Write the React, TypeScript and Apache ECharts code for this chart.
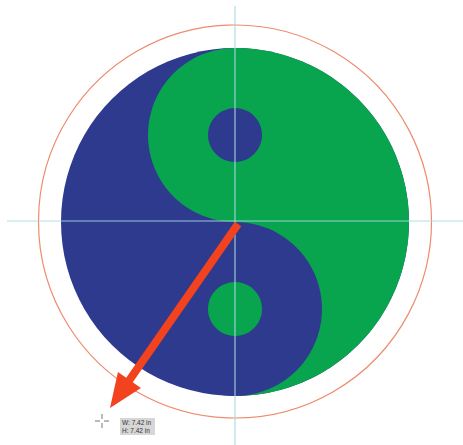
import React, { useEffect, useRef } from "react";
import * as echarts from "echarts";

// Geometry (in page pixels, y grows downward)
const yinYang = [[235, 222, 174]]; // cx, cy, outer radius
const dotRadius = [27];
const guideRing = [[235, 221.5, 196.5]]; // cx, cy, r
const guideLines = [
  [7, 221, 463, 221],
  [235, 6, 235, 445],
];
const arrow = [[238, 224, 110, 408]]; // from x,y to tip x,y
const sizeLabels = ["W: 7.42 in", "H: 7.42 in"];
const labelBox = [[120, 418, 35, 17]];
const cursor = [[102, 421]];

const BLUE = "#2e3a8e";
const GREEN = "#08a54e";
const RED = "#f2421e";
const RING = "#ee8b6d";
const GUIDE = "#a7d8df";

export default function App() {
  const ref = useRef<HTMLDivElement>(null);
  useEffect(() => {
    const chart = echarts.init(ref.current!, null, { renderer: "svg" });
    const px = (api: any, x: number, y: number) => api.coord([x, y]);
    const len = (api: any, r: number) => api.size([r, 0])[0];

    chart.setOption({
      animation: false,
      backgroundColor: "#ffffff",
      grid: { left: 0, right: 0, top: 0, bottom: 0 },
      xAxis: { type: "value", min: 0, max: 463, show: false },
      yAxis: { type: "value", min: 0, max: 445, inverse: true, show: false },
      series: [
        {
          type: "custom",
          silent: true,
          data: guideRing,
          renderItem: (params: any, api: any) => {
            const c = px(api, api.value(0), api.value(1));
            return {
              type: "circle",
              shape: { cx: c[0], cy: c[1], r: len(api, api.value(2)) },
              style: { fill: "none", stroke: RING, lineWidth: 1.2 },
            };
          },
        },
        {
          type: "custom",
          silent: true,
          data: yinYang,
          renderItem: (params: any, api: any) => {
            const c = px(api, api.value(0), api.value(1));
            const R = len(api, api.value(2));
            const h = R / 2;
            const d = len(api, dotRadius[0]);
            return {
              type: "group",
              children: [
                { type: "circle", shape: { cx: c[0], cy: c[1], r: R }, style: { fill: BLUE } },
                {
                  type: "sector",
                  shape: { cx: c[0], cy: c[1], r: R, r0: 0, startAngle: -Math.PI / 2, endAngle: Math.PI / 2, clockwise: true },
                  style: { fill: GREEN },
                },
                { type: "circle", shape: { cx: c[0], cy: c[1] - h, r: h }, style: { fill: GREEN } },
                { type: "circle", shape: { cx: c[0], cy: c[1] + h, r: h }, style: { fill: BLUE } },
                { type: "circle", shape: { cx: c[0], cy: c[1] - h, r: d }, style: { fill: BLUE } },
                { type: "circle", shape: { cx: c[0], cy: c[1] + h, r: d }, style: { fill: GREEN } },
              ],
            };
          },
        },
        {
          type: "custom",
          silent: true,
          data: guideLines,
          renderItem: (params: any, api: any) => {
            const a = px(api, api.value(0), api.value(1));
            const b = px(api, api.value(2), api.value(3));
            return {
              type: "line",
              shape: { x1: a[0], y1: a[1], x2: b[0], y2: b[1] },
              style: { stroke: GUIDE, lineWidth: 1.2, opacity: 0.9 },
            };
          },
        },
        {
          type: "custom",
          silent: true,
          data: arrow,
          renderItem: (params: any, api: any) => {
            const a = px(api, api.value(0), api.value(1));
            const t = px(api, api.value(2), api.value(3));
            const dx = t[0] - a[0];
            const dy = t[1] - a[1];
            const L = Math.sqrt(dx * dx + dy * dy);
            const ux = dx / L;
            const uy = dy / L;
            const nx = -uy;
            const ny = ux;
            const headLen = 34;
            const headHalf = 14;
            const bx = t[0] - ux * headLen;
            const by = t[1] - uy * headLen;
            return {
              type: "group",
              children: [
                {
                  type: "line",
                  shape: { x1: a[0], y1: a[1], x2: bx + ux * 2, y2: by + uy * 2 },
                  style: { stroke: RED, lineWidth: 8 },
                },
                {
                  type: "polygon",
                  shape: {
                    points: [
                      [t[0], t[1]],
                      [bx + nx * headHalf, by + ny * headHalf],
                      [bx - nx * headHalf, by - ny * headHalf],
                    ],
                  },
                  style: { fill: RED },
                },
              ],
            };
          },
        },
        {
          type: "custom",
          silent: true,
          data: labelBox,
          renderItem: (params: any, api: any) => {
            const p = px(api, api.value(0), api.value(1));
            const w = len(api, api.value(2));
            const hgt = len(api, api.value(3));
            return {
              type: "group",
              children: [
                { type: "rect", shape: { x: p[0], y: p[1], width: w, height: hgt }, style: { fill: "#d6d6d6" } },
                ...sizeLabels.map((s, i) => ({
                  type: "text",
                  style: {
                    text: s,
                    x: p[0] + 2,
                    y: p[1] + 4.5 + i * 7.5,
                    fill: "#333333",
                    font: "6.5px 'Liberation Sans', sans-serif",
                    verticalAlign: "middle",
                  },
                })),
              ],
            };
          },
        },
        {
          type: "custom",
          silent: true,
          data: cursor,
          renderItem: (params: any, api: any) => {
            const c = px(api, api.value(0), api.value(1));
            const segs = [
              [0, -7, 0, -2],
              [0, 2, 0, 7],
              [-7, 0, -2, 0],
              [2, 0, 7, 0],
            ];
            return {
              type: "group",
              children: segs.map((s) => ({
                type: "line",
                shape: { x1: c[0] + s[0], y1: c[1] + s[1], x2: c[0] + s[2], y2: c[1] + s[3] },
                style: { stroke: "#777777", lineWidth: 1 },
              })),
            };
          },
        },
      ],
    });
    return () => chart.dispose();
  }, []);
  return (
    <div
      ref={ref}
      style={{ position: "fixed", left: 0, top: 0, width: 463, height: 445 }}
    />
  );
}
